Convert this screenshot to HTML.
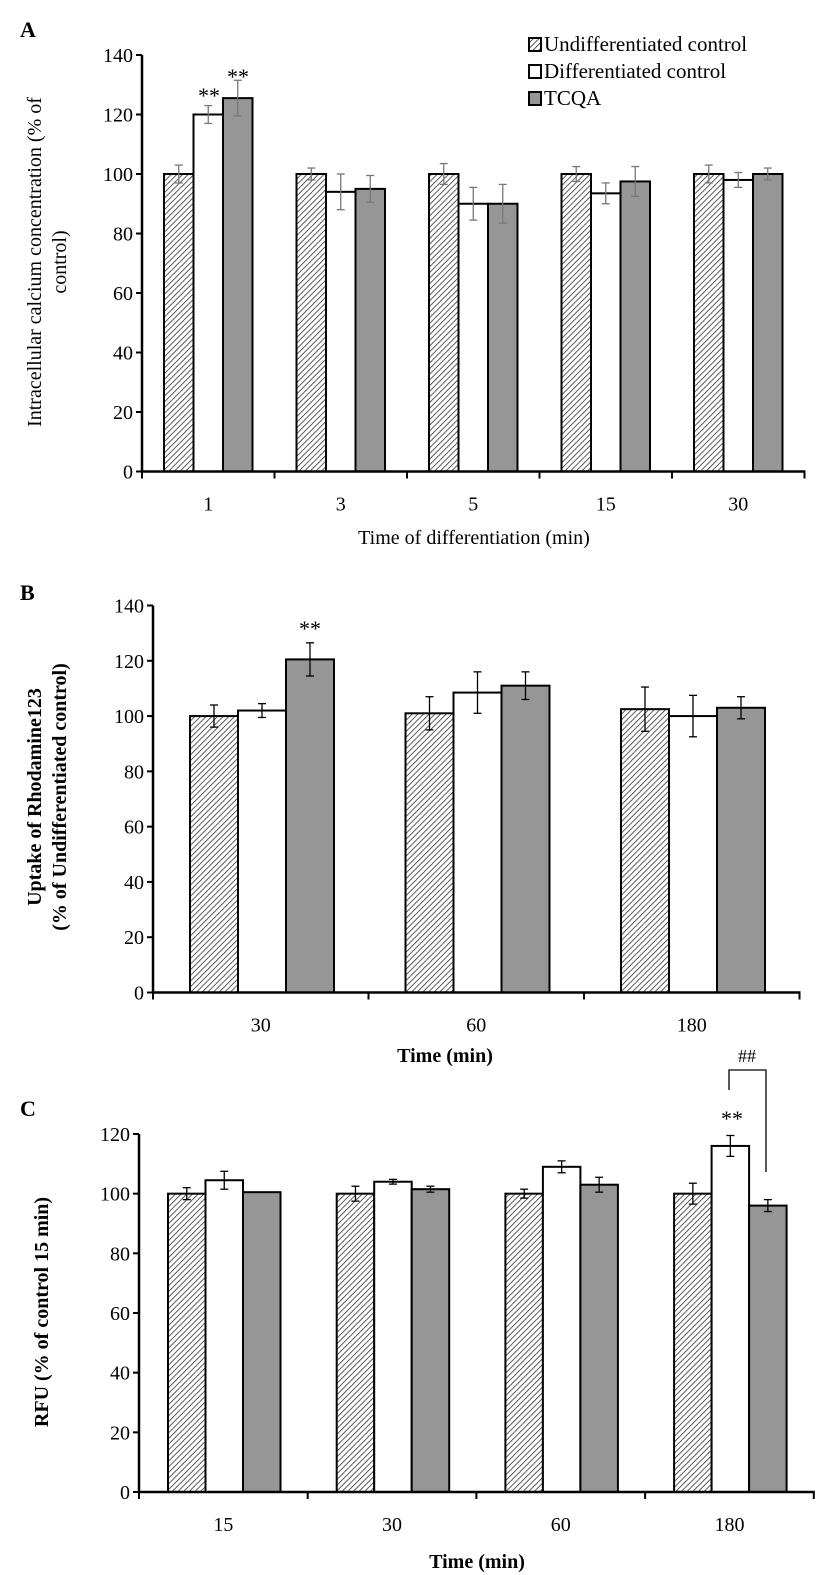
<!DOCTYPE html>
<html><head><meta charset="utf-8"><style>
html,body{margin:0;padding:0;background:#fff;}
svg{display:block;font-family:"Liberation Serif",serif;}
</style></head><body>
<svg id="s" width="829" height="1575" xmlns="http://www.w3.org/2000/svg">
<defs>
<pattern id="h" patternUnits="userSpaceOnUse" width="4" height="4" patternTransform="rotate(45)">
<rect width="4" height="4" fill="#fff"/><line x1="0" y1="0" x2="0" y2="4" stroke="#333" stroke-width="1.6"/>
</pattern>
</defs>
</svg>
<script>
var s=document.getElementById('s'),NS='http://www.w3.org/2000/svg';
function el(t,a,txt){var e=document.createElementNS(NS,t);for(var k in a)e.setAttribute(k,a[k]);if(txt!=null)e.textContent=txt;s.appendChild(e);return e;}
function panel(o){
 var yv=function(v){return o.y0-(o.y0-o.yT)*v/o.max;};
 o.data.forEach(function(g,gi){
  var gx=o.ax+gi*o.gw+o.off;
  g.forEach(function(d,bi){
   var x=gx+bi*o.bw,y=yv(d[0]);
   var fill=bi==0?'url(#h)':bi==1?'#fff':'#969696';
   el('rect',{x:x,y:y,width:o.bw,height:o.y0-y,fill:fill,stroke:'#000','stroke-width':2});
   if(d[1]>0){var cx=x+o.bw/2,t=yv(d[0]+d[1]),b=yv(d[0]-d[1]);
    el('line',{x1:cx,y1:t,x2:cx,y2:b,stroke:o.ec,'stroke-width':1.3});
    el('line',{x1:cx-4,y1:t,x2:cx+4,y2:t,stroke:o.ec,'stroke-width':1.3});
    el('line',{x1:cx-4,y1:b,x2:cx+4,y2:b,stroke:o.ec,'stroke-width':1.3});}
  });
 });
 el('line',{x1:o.ax,y1:o.yT,x2:o.ax,y2:o.y0+1,stroke:'#000','stroke-width':2.5});
 var right=o.ax+o.gw*o.data.length;
 el('line',{x1:o.ax-1,y1:o.y0,x2:right+1,y2:o.y0,stroke:'#000','stroke-width':2.5});
 for(var v=0;v<=o.max;v+=20){var y=yv(v);
  el('line',{x1:o.ax-6,y1:y,x2:o.ax,y2:y,stroke:'#000','stroke-width':2});
  el('text',{x:o.ax-9,y:y+7,'text-anchor':'end','font-size':20},v);}
 for(var i=0;i<=o.data.length;i++){var x=o.ax+i*o.gw;
  el('line',{x1:x,y1:o.y0,x2:x,y2:o.y0+7,stroke:'#000','stroke-width':2});
  if(i<o.data.length)el('text',{x:x+o.gw/2,y:o.y0+39,'text-anchor':'middle','font-size':20},o.cats[i]);}
}
panel({ax:142,y0:471.5,yT:55,max:140,gw:132.5,off:22,bw:29.5,ec:'#777',cats:['1','3','5','15','30'],
 data:[[[100,3],[120,3],[125.5,6]],[[100,2],[94,6],[95,4.5]],[[100,3.5],[90,5.5],[90,6.5]],[[100,2.5],[93.5,3.5],[97.5,5]],[[100,3],[98,2.5],[100,2]]]});
panel({ax:153,y0:992.5,yT:605.5,max:140,gw:215.5,off:37,bw:48,ec:'#000',cats:['30','60','180'],
 data:[[[100,4],[102,2.5],[120.5,6]],[[101,6],[108.5,7.5],[111,5]],[[102.5,8],[100,7.5],[103,4]]]});
panel({ax:139,y0:1492,yT:1134,max:120,gw:168.7,off:29,bw:37.5,ec:'#000',cats:['15','30','60','180'],
 data:[[[100,2],[104.5,3],[100.5,0]],[[100,2.5],[104,0.8],[101.5,1]],[[100,1.5],[109,2],[103,2.5]],[[100,3.5],[116,3.5],[96,2]]]});
el('text',{x:20,y:37,'font-size':22,'font-weight':'bold'},'A');
el('text',{x:20,y:600,'font-size':22,'font-weight':'bold'},'B');
el('text',{x:20,y:1116,'font-size':22,'font-weight':'bold'},'C');
el('text',{transform:'translate(41,262) rotate(-90)','text-anchor':'middle','font-size':20},'Intracellular calcium concentration (% of');
el('text',{transform:'translate(66,262) rotate(-90)','text-anchor':'middle','font-size':20},'control)');
el('text',{transform:'translate(41,797) rotate(-90)','text-anchor':'middle','font-size':20,'font-weight':'bold'},'Uptake of Rhodamine123');
el('text',{transform:'translate(66,797) rotate(-90)','text-anchor':'middle','font-size':20,'font-weight':'bold'},'(% of Undifferentiated control)');
el('text',{transform:'translate(48,1312) rotate(-90)','text-anchor':'middle','font-size':20,'font-weight':'bold'},'RFU (% of control 15 min)');
el('text',{x:474,y:544,'text-anchor':'middle','font-size':20},'Time of differentiation (min)');
el('text',{x:445,y:1062,'text-anchor':'middle','font-size':20,'font-weight':'bold'},'Time (min)');
el('text',{x:477,y:1568,'text-anchor':'middle','font-size':20,'font-weight':'bold'},'Time (min)');
el('text',{x:209,y:103,'text-anchor':'middle','font-size':22},'**');
el('text',{x:238,y:84,'text-anchor':'middle','font-size':22},'**');
el('text',{x:310,y:636,'text-anchor':'middle','font-size':22},'**');
el('text',{x:732,y:1126,'text-anchor':'middle','font-size':22},'**');
el('polyline',{points:'729,1090 729,1070 766,1070 766,1172',fill:'none',stroke:'#000','stroke-width':1.3});
el('text',{x:747,y:1062,'text-anchor':'middle','font-size':18},'##');
var lg=[['url(#h)','Undifferentiated control'],['#fff','Differentiated control'],['#969696','TCQA']];
lg.forEach(function(l,i){var y=38+i*27;
 el('rect',{x:529,y:y,width:12,height:13,fill:l[0],stroke:'#000','stroke-width':2});
 el('text',{x:544,y:y+13,'font-size':21},l[1]);});
</script>
</body></html>
